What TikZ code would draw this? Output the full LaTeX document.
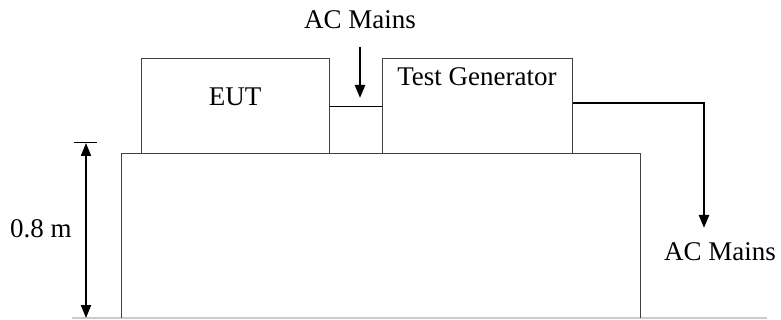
\documentclass[tikz,border=0pt]{standalone}
\usepackage{fontspec}
\setmainfont{Liberation Serif}
\usetikzlibrary{arrows.meta}
\begin{document}
\begin{tikzpicture}[x=1pt,y=-1pt,line join=miter,
  box/.style={draw=black!75,line width=1pt,minimum width=#1,minimum height=95pt,inner sep=0pt},
  txt/.style={font=\fontsize{27}{30}\selectfont,inner sep=2pt},
  arr/.style={line width=2.4pt,-{Triangle[width=10pt,length=13pt]}},
  darr/.style={line width=2pt,{Triangle[width=10pt,length=13pt]}-{Triangle[width=10pt,length=13pt]}}]
  \useasboundingbox (0,0) rectangle (781,320);
  \draw[black!20,line width=1.5pt] (72,318) -- (767,318);
  \draw[black!75,line width=1pt] (121,318) -- (121,154) -- (640,154) -- (640,318);
  \node (EUT) [box=188pt,label={[txt,yshift=10pt]center:EUT}] at (235,106.5) {};
  \node (TG) [box=190pt,label={[txt,anchor=north,yshift=-7pt]north:Test Generator}] at (477,106.5) {};
  \draw[line width=1pt] (EUT.east) -- (TG.west);
  \node (ACin) [txt] at (360,20) {AC Mains};
  \coordinate (ACin1) at (360,47);
  \coordinate (ACin2) at (360,98);
  \draw[arr] (ACin1) -- (ACin2);
  \node (ACout) [txt] at (720,252) {AC Mains};
  \coordinate (ACout1) at (704,228);
  \draw[arr] ([yshift=3.5pt]TG.east) -| (ACout1);
  \coordinate (H1) at (86,143);
  \coordinate (H2) at (86,318);
  \draw[line width=1pt] (74,143) -- (97,143);
  \draw[darr] (H1) -- (H2);
  \node (H) [txt] at (41,229) {0.8 m};
\end{tikzpicture}
\end{document}
